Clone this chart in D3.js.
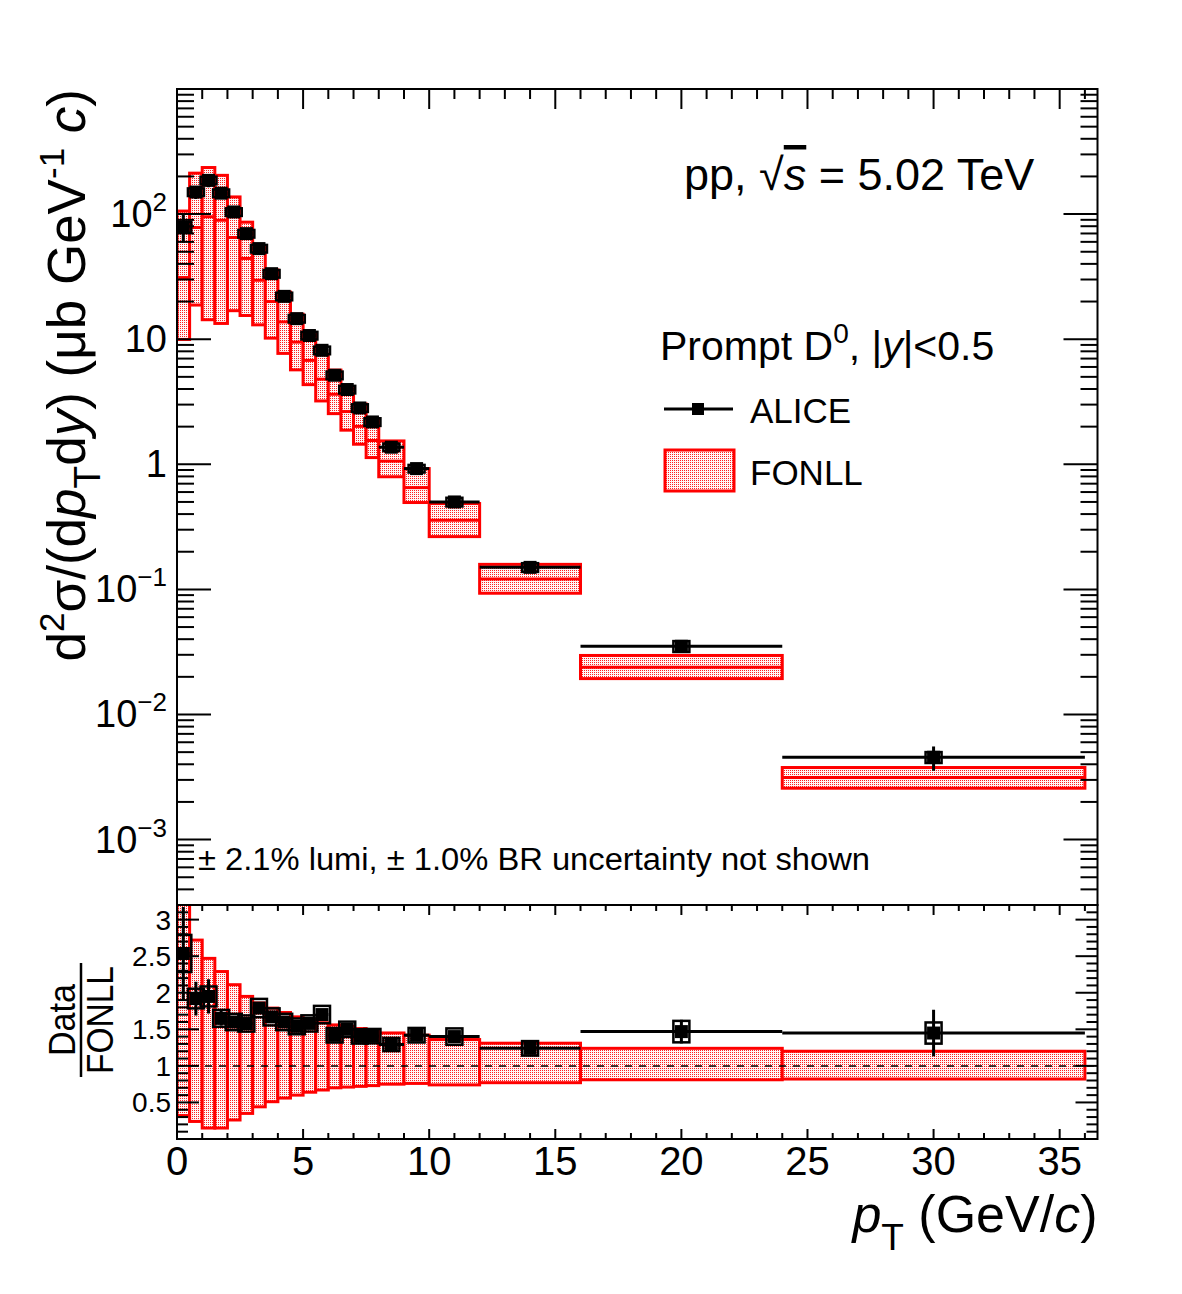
<!DOCTYPE html>
<html>
<head>
<meta charset="utf-8">
<script src="https://cdn.jsdelivr.net/npm/d3@7"></script>
<style>
  body { margin: 0; background: #fff; }
  svg { display: block; }
  text { font-family: "Liberation Sans", Arial, Helvetica, sans-serif; fill: #000; }
</style>
</head>
<body>
<svg id="chart" width="1182" height="1294"></svg>
<script>
// pT bins (GeV/c)
const binLo = [0, 0.5, 1, 1.5, 2, 2.5, 3, 3.5, 4, 4.5, 5, 5.5, 6, 6.5, 7, 7.5, 8, 9, 10, 12, 16, 24];
const binHi = [0.5, 1, 1.5, 2, 2.5, 3, 3.5, 4, 4.5, 5, 5.5, 6, 6.5, 7, 7.5, 8, 9, 10, 12, 16, 24, 36];
const ptCenter = [0.25, 0.75, 1.25, 1.75, 2.25, 2.75, 3.25, 3.75, 4.25, 4.75, 5.25, 5.75, 6.25, 6.75, 7.25, 7.75, 8.5, 9.5, 11, 14, 20, 30];

// ALICE prompt D0 cross section (ub GeV^-1 c), relative stat and syst uncertainties
const aliceXsec = [78.9, 150, 186, 147, 104, 69.8, 53, 33.4, 22, 14.6, 10.7, 8.15, 5.15, 3.96, 2.82, 2.18, 1.37, 0.924, 0.50, 0.150, 0.0351, 0.00455];
const aliceStat = [0.25, 0.12, 0.12, 0.06, 0.05, 0.04, 0.04, 0.04, 0.04, 0.04, 0.04, 0.04, 0.04, 0.04, 0.04, 0.04, 0.04, 0.04, 0.04, 0.05, 0.11, 0.22];
const aliceSyst = [0.10, 0.07, 0.07, 0.07, 0.07, 0.07, 0.07, 0.07, 0.07, 0.07, 0.07, 0.07, 0.07, 0.07, 0.07, 0.07, 0.07, 0.07, 0.08, 0.08, 0.10, 0.10];

// FONLL central value and band limits relative to central
const fonllCentral = [31.1, 78.1, 95.4, 89.1, 65, 44.2, 29.6, 20, 13.75, 9.48, 6.77, 4.79, 3.63, 2.64, 2.01, 1.55, 1.06, 0.651, 0.357, 0.121, 0.0239, 0.00314];
const fonllRelUp = [3.4, 2.72, 2.47, 2.29, 2.11, 1.95, 1.86, 1.79, 1.73, 1.67, 1.63, 1.59, 1.56, 1.54, 1.51, 1.49, 1.45, 1.42, 1.36, 1.31, 1.24, 1.20];
const fonllRelDown = [0.32, 0.24, 0.15, 0.15, 0.26, 0.35, 0.44, 0.51, 0.56, 0.60, 0.64, 0.67, 0.70, 0.71, 0.72, 0.73, 0.75, 0.76, 0.74, 0.77, 0.81, 0.82];

// axis ticks
const xTicks = [0, 5, 10, 15, 20, 25, 30, 35];
const yDecades = [1e-3, 1e-2, 1e-1, 1, 10, 100];
const yDecadeBase = ["10", "10", "10", "1", "10", "10"];
const yDecadeExp = ["\u22123", "\u22122", "\u22121", "", "", "2"];
const ratioTicks = [0.5, 1, 1.5, 2, 2.5, 3];
const ratioLabels = ["0.5", "1", "1.5", "2", "2.5", "3"];

const L = 177, R = 1097.5, T1 = 89, B1 = 905, T2 = 905, B2 = 1139;
const x = d3.scaleLinear().domain([0, 36.5]).range([L, R]);
const yTop = d3.scaleLog().domain([3e-4, 1e3]).range([B1, T1]);
const yRat = d3.scaleLinear().domain([0, 3.2]).range([B2, T2]);

const svg = d3.select("#chart");
const defs = svg.append("defs");

// dotted FONLL fill
const pat = defs.append("pattern")
  .attr("id", "dots").attr("patternUnits", "userSpaceOnUse")
  .attr("width", 2).attr("height", 2);
pat.append("rect").attr("width", 2).attr("height", 2).attr("fill", "#fff6f6");
pat.append("rect").attr("x", 0).attr("y", 0).attr("width", 1).attr("height", 1).attr("fill", "#ff2020");

defs.append("clipPath").attr("id", "clipTop")
  .append("rect").attr("x", L).attr("y", T1).attr("width", R - L).attr("height", B1 - T1);
defs.append("clipPath").attr("id", "clipRat")
  .append("rect").attr("x", L).attr("y", T2).attr("width", R - L).attr("height", B2 - T2);

const idx = d3.range(binLo.length);

// ---------- upper panel ----------
const gTop = svg.append("g").attr("clip-path", "url(#clipTop)");

gTop.selectAll("rect.fonll").data(idx).enter().append("rect")
  .attr("class", "fonll")
  .attr("x", i => x(binLo[i]))
  .attr("width", i => x(binHi[i]) - x(binLo[i]))
  .attr("y", i => yTop(fonllCentral[i] * fonllRelUp[i]))
  .attr("height", i => yTop(fonllCentral[i] * fonllRelDown[i]) - yTop(fonllCentral[i] * fonllRelUp[i]))
  .attr("fill", "url(#dots)")
  .attr("stroke", "#ff0000")
  .attr("stroke-width", 3);

gTop.selectAll("line.fcen").data(idx).enter().append("line")
  .attr("x1", i => x(binLo[i])).attr("x2", i => x(binHi[i]))
  .attr("y1", i => yTop(fonllCentral[i])).attr("y2", i => yTop(fonllCentral[i]))
  .attr("stroke", "#ff0000").attr("stroke-width", 3);

function drawData(g, yScale, vals) {
  g.selectAll(null).data(idx).enter().append("line")
    .attr("x1", i => x(binLo[i])).attr("x2", i => x(binHi[i]))
    .attr("y1", i => yScale(vals[i])).attr("y2", i => yScale(vals[i]))
    .attr("stroke", "#000").attr("stroke-width", 3);
  g.selectAll(null).data(idx).enter().append("line")
    .attr("x1", i => x(ptCenter[i])).attr("x2", i => x(ptCenter[i]))
    .attr("y1", i => yScale(vals[i] * (1 + aliceStat[i])))
    .attr("y2", i => yScale(vals[i] * (1 - aliceStat[i])))
    .attr("stroke", "#000").attr("stroke-width", 3);
  g.selectAll(null).data(idx).enter().append("rect")
    .attr("x", i => x(ptCenter[i]) - 8)
    .attr("width", 16)
    .attr("y", i => yScale(vals[i] * (1 + aliceSyst[i])))
    .attr("height", i => yScale(vals[i] * (1 - aliceSyst[i])) - yScale(vals[i] * (1 + aliceSyst[i])))
    .attr("fill", "none").attr("stroke", "#000").attr("stroke-width", 2.5);
  g.selectAll(null).data(idx).enter().append("rect")
    .attr("x", i => x(ptCenter[i]) - 6.5)
    .attr("y", i => yScale(vals[i]) - 6.5)
    .attr("width", 13).attr("height", 13)
    .attr("fill", "#000");
}
drawData(gTop, yTop, aliceXsec);

// ---------- ratio panel ----------
const gRat = svg.append("g").attr("clip-path", "url(#clipRat)");
gRat.selectAll("rect.fr").data(idx).enter().append("rect")
  .attr("x", i => x(binLo[i]))
  .attr("width", i => x(binHi[i]) - x(binLo[i]))
  .attr("y", i => yRat(fonllRelUp[i]))
  .attr("height", i => yRat(fonllRelDown[i]) - yRat(fonllRelUp[i]))
  .attr("fill", "url(#dots)")
  .attr("stroke", "#ff0000")
  .attr("stroke-width", 3);
gRat.append("line")
  .attr("x1", L).attr("x2", R).attr("y1", yRat(1)).attr("y2", yRat(1))
  .attr("stroke", "#000").attr("stroke-width", 1.5).attr("stroke-dasharray", "7,7");
const ratioVals = idx.map(i => aliceXsec[i] / fonllCentral[i]);
drawData(gRat, yRat, ratioVals);

// ---------- frames and ticks ----------
const axes = svg.append("g").attr("stroke", "#000").attr("stroke-width", 2).attr("fill", "none");
axes.append("rect").attr("x", L).attr("y", T1).attr("width", R - L).attr("height", B1 - T1);
axes.append("rect").attr("x", L).attr("y", T2).attr("width", R - L).attr("height", B2 - T2);

function tickLine(x1, y1, x2, y2) {
  axes.append("line").attr("x1", x1).attr("y1", y1).attr("x2", x2).attr("y2", y2);
}
// x ticks: top of upper panel, top & bottom of ratio panel
d3.range(0, 37, 1).forEach(v => {
  const major = v % 5 === 0;
  const px = x(v);
  tickLine(px, T1, px, T1 + (major ? 20 : 10));
  tickLine(px, T2, px, T2 + (major ? 10 : 6));
  tickLine(px, B2, px, B2 - (major ? 10 : 6));
});
// log ticks upper panel
for (let e = -4; e <= 2; e++) {
  for (let m = 1; m <= 9; m++) {
    const v = m * Math.pow(10, e);
    if (v < 3e-4 || v > 1e3) continue;
    const py = yTop(v);
    const len = m === 1 ? 34 : 17;
    tickLine(L, py, L + len, py);
    tickLine(R, py, R - len, py);
  }
}
// ratio y ticks
d3.range(1, 32).forEach(k => {
  const v = k / 10;
  const major = k % 5 === 0;
  const py = yRat(v);
  tickLine(L, py, L + (major ? 22 : 11), py);
  tickLine(R, py, R - (major ? 22 : 11), py);
});

// ---------- tick labels ----------
const lab = svg.append("g");
yDecades.forEach((v, k) => {
  const t = lab.append("text")
    .attr("x", 167).attr("y", yTop(v) + 13)
    .attr("text-anchor", "end").attr("font-size", 38);
  t.append("tspan").text(yDecadeBase[k]);
  if (yDecadeExp[k]) t.append("tspan").attr("font-size", 26).attr("dy", -16).text(yDecadeExp[k]);
});
ratioTicks.forEach((v, k) => {
  lab.append("text").attr("x", 171).attr("y", yRat(v) + 10)
    .attr("text-anchor", "end").attr("font-size", 28).text(ratioLabels[k]);
});
xTicks.forEach(v => {
  lab.append("text").attr("x", x(v)).attr("y", 1175)
    .attr("text-anchor", "middle").attr("font-size", 40).text(v);
});

// ---------- titles ----------
const xt = svg.append("text").attr("x", R).attr("y", 1232).attr("text-anchor", "end").attr("font-size", 52);
xt.append("tspan").attr("font-style", "italic").text("p");
xt.append("tspan").attr("font-size", 37).attr("dy", 18).text("T");
xt.append("tspan").attr("dy", -18).text(" (GeV/");
xt.append("tspan").attr("font-style", "italic").text("c");
xt.append("tspan").text(")");

const yt = svg.append("text").attr("transform", "translate(85,89) rotate(-90)")
  .attr("text-anchor", "end").attr("font-size", 53);
yt.append("tspan").text("d");
yt.append("tspan").attr("font-size", 35).attr("dy", -21).text("2");
yt.append("tspan").attr("dy", 21).text("\u03c3/(d");
yt.append("tspan").attr("font-style", "italic").text("p");
yt.append("tspan").attr("font-size", 37).attr("dy", 15).text("T");
yt.append("tspan").attr("dy", -15).text("d");
yt.append("tspan").attr("font-style", "italic").text("y");
yt.append("tspan").text(") (\u03bcb GeV");
yt.append("tspan").attr("font-size", 35).attr("dy", -21).text("-1");
yt.append("tspan").attr("dy", 21).text(" ");
yt.append("tspan").attr("font-style", "italic").text("c");
yt.append("tspan").text(")");

const rt = svg.append("g").attr("transform", "translate(0,1020) rotate(-90)");
rt.append("text").attr("x", 0).attr("y", 75).attr("text-anchor", "middle").attr("font-size", 37)
  .attr("textLength", 72).attr("lengthAdjust", "spacingAndGlyphs").text("Data");
rt.append("line").attr("x1", -57).attr("x2", 57).attr("y1", 81).attr("y2", 81)
  .attr("stroke", "#000").attr("stroke-width", 2.5);
rt.append("text").attr("x", 0).attr("y", 113).attr("text-anchor", "middle").attr("font-size", 37)
  .attr("textLength", 108).attr("lengthAdjust", "spacingAndGlyphs").text("FONLL");

// ---------- annotations and legend ----------
const en = svg.append("text").attr("x", 684).attr("y", 190).attr("font-size", 45);
en.append("tspan").text("pp, \u221a");
en.append("tspan").attr("font-style", "italic").attr("text-decoration", "overline").text("s");
en.append("tspan").text(" = 5.02 TeV");

const pr = svg.append("text").attr("x", 660).attr("y", 360).attr("font-size", 41);
pr.append("tspan").text("Prompt D");
pr.append("tspan").attr("font-size", 28).attr("dy", -17).text("0");
pr.append("tspan").attr("dy", 17).text(", |");
pr.append("tspan").attr("font-style", "italic").text("y");
pr.append("tspan").text("|<0.5");

const leg = svg.append("g");
leg.append("line").attr("x1", 664).attr("x2", 733).attr("y1", 409).attr("y2", 409)
  .attr("stroke", "#000").attr("stroke-width", 3);
leg.append("rect").attr("x", 692).attr("y", 403).attr("width", 12).attr("height", 12).attr("fill", "#000");
leg.append("text").attr("x", 750).attr("y", 423).attr("font-size", 35).text("ALICE");
leg.append("rect").attr("x", 665).attr("y", 450).attr("width", 69).attr("height", 41)
  .attr("fill", "url(#dots)").attr("stroke", "#ff0000").attr("stroke-width", 3);
leg.append("text").attr("x", 750).attr("y", 485).attr("font-size", 35).text("FONLL");

svg.append("text").attr("x", 198).attr("y", 870).attr("font-size", 31)
  .attr("textLength", 672).attr("lengthAdjust", "spacingAndGlyphs")
  .text("\u00b1 2.1% lumi, \u00b1 1.0% BR uncertainty not shown");
</script>
</body>
</html>
